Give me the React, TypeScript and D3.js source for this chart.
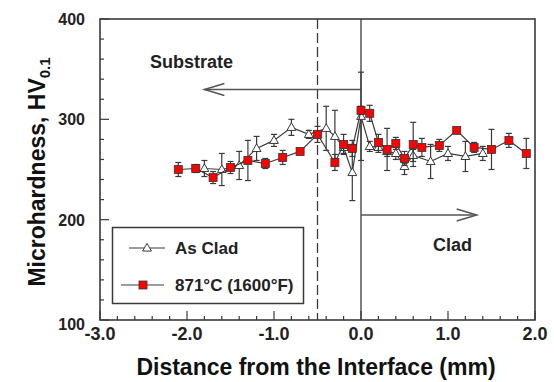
import * as d3 from "d3";

// ── Data ────────────────────────────────────────────────
const heatX   = [-2.1, -1.9, -1.7, -1.5, -1.3, -1.1, -0.9, -0.7, -0.5, -0.3, -0.2, -0.1, 0.0, 0.1, 0.2, 0.3, 0.4, 0.5, 0.6, 0.7, 0.9, 1.1, 1.3, 1.5, 1.7, 1.9];
const heatY   = [250, 251, 242, 252, 259, 256, 262, 268, 285, 257, 275, 271, 309, 306, 277, 270, 276, 261, 275, 272, 274, 289, 272, 270, 279, 266];
const heatErr = [7, 4, 6, 6, 20, 5, 7, 0, 8, 8, 10, 8, 4, 8, 8, 21, 6, 7, 22, 9, 6, 0, 5, 20, 7, 15];

const asCladX   = [-1.8, -1.6, -1.4, -1.2, -1.0, -0.8, -0.6, -0.4, -0.3, -0.2, -0.1, 0.0, 0.1, 0.2, 0.3, 0.4, 0.5, 0.6, 0.8, 1.0, 1.2, 1.4];
const asCladY   = [251, 250, 254, 271, 279, 292, 285, 291, 283, 272, 247, 303, 273, 272, 268, 266, 253, 264, 258, 266, 263, 266];
const asCladErr = [8, 16, 14, 12, 6, 8, 4, 22, 26, 6, 28, 44, 5, 5, 5, 6, 8, 6, 17, 7, 15, 7];

const xTicks = [-3, -2, -1, 0, 1, 2];
const yTicks = [100, 200, 300, 400];

// ── Layout ────────────────────────────────────────────────
const W = 554;
const H = 382;
const margin = { top: 19, right: 19, bottom: 62, left: 100 };
const FONT = "'Liberation Sans', Arial, sans-serif";
const INK = "#3a3a3a";

const x = d3.scaleLinear().domain([-3, 2]).range([margin.left, W - margin.right]);
const y = d3.scaleLinear().domain([100, 400]).range([H - margin.bottom, margin.top]);

const line = d3.line<[number, number]>().x(d => x(d[0])).y(d => y(d[1]));
const zip = (xs: number[], ys: number[]) => xs.map((v, i) => [v, ys[i]] as [number, number]);

const tri = d3.symbol().type(d3.symbolTriangle).size(34)() as string;

function ErrorBars({ xs, ys, es }: { xs: number[]; ys: number[]; es: number[] }) {
  return (
    <g stroke={INK} strokeWidth={1.2}>
      {xs.map((v, i) => es[i] > 0 && (
        <g key={i}>
          <line x1={x(v)} x2={x(v)} y1={y(ys[i] + es[i])} y2={y(ys[i] - es[i])} />
          <line x1={x(v) - 3} x2={x(v) + 3} y1={y(ys[i] + es[i])} y2={y(ys[i] + es[i])} />
          <line x1={x(v) - 3} x2={x(v) + 3} y1={y(ys[i] - es[i])} y2={y(ys[i] - es[i])} />
        </g>
      ))}
    </g>
  );
}

export default function App() {
  const x0 = x.range()[0], x1 = x.range()[1];
  const y0 = y.range()[0], y1 = y.range()[1];
  const minorX = d3.range(-3, 2.001, 0.2);
  const minorY = d3.range(100, 400.001, 20);

  const subY = 89.5;   // substrate arrow height (px)
  const cladY = 215;   // clad arrow height (px)
  const subTip = x(-1.8);
  const cladTip = x(1.33);

  return (
    <svg width={W} height={H} style={{ position: "absolute", left: 0, top: 0, background: "#fff" }}>

      {/* ── Reference lines ── */}
      <line x1={x(-0.5)} x2={x(-0.5)} y1={y1} y2={y0} stroke={INK} strokeWidth={1.3} strokeDasharray="10,4" />
      <line x1={x(0)} x2={x(0)} y1={y1} y2={y0} stroke={INK} strokeWidth={1.3} />

      {/* ── Arrows ── */}
      <g stroke="#555" strokeWidth={1.5} fill="none">
        <line x1={x(0)} x2={subTip} y1={subY} y2={subY} />
        <polyline points={`${subTip + 20},${subY - 6} ${subTip},${subY} ${subTip + 20},${subY + 6}`} />
        <line x1={x(0)} x2={cladTip} y1={cladY} y2={cladY} />
        <polyline points={`${cladTip - 20},${cladY - 6} ${cladTip},${cladY} ${cladTip - 20},${cladY + 6}`} />
      </g>
      <text x={150} y={68} fontFamily={FONT} fontSize={18} fontWeight={700} fill="#222">Substrate</text>
      <text x={433} y={251} fontFamily={FONT} fontSize={18} fontWeight={700} fill="#222">Clad</text>

      {/* ── As Clad series ── */}
      <path d={line(zip(asCladX, asCladY)) as string} fill="none" stroke={INK} strokeWidth={1.2} />
      <ErrorBars xs={asCladX} ys={asCladY} es={asCladErr} />
      {asCladX.map((v, i) => (
        <path key={i} d={tri} transform={`translate(${x(v)},${y(asCladY[i]) + 0.5})`}
          fill="#fff" stroke={INK} strokeWidth={1} />
      ))}

      {/* ── 871°C series ── */}
      <path d={line(zip(heatX, heatY)) as string} fill="none" stroke={INK} strokeWidth={1.2} />
      <ErrorBars xs={heatX} ys={heatY} es={heatErr} />
      {heatX.map((v, i) => (
        <rect key={i} x={x(v) - 4} y={y(heatY[i]) - 4} width={8} height={8}
          fill="#ff0000" stroke="#333" strokeWidth={0.8} />
      ))}

      {/* ── Legend ── */}
      <rect x={112.5} y={227.5} width={191} height={76} fill="#fff" stroke={INK} strokeWidth={1.5} />
      <line x1={129} x2={165} y1={248} y2={248} stroke={INK} strokeWidth={1.2} />
      <path d={tri} transform="translate(147,248.5)" fill="#fff" stroke={INK} strokeWidth={1} />
      <text x={175} y={254} fontFamily={FONT} fontSize={17} fontWeight={700} fill="#222">As Clad</text>
      <line x1={121} x2={164} y1={285} y2={285} stroke={INK} strokeWidth={1.2} />
      <rect x={139} y={281} width={8} height={8} fill="#ff0000" stroke="#333" strokeWidth={0.8} />
      <text x={175} y={291} fontFamily={FONT} fontSize={17} fontWeight={700} fill="#222">871°C (1600°F)</text>

      {/* ── Frame ── */}
      <rect x={x0} y={y1} width={x1 - x0} height={y0 - y1} fill="none" stroke={INK} strokeWidth={1.6} />

      {/* ── Ticks ── */}
      <g stroke={INK} strokeWidth={1.2}>
        {minorX.map((t, i) => {
          const major = Math.abs(t - Math.round(t)) < 1e-6;
          return <line key={i} x1={x(t)} x2={x(t)} y1={y0} y2={y0 - (major ? 9 : 4)} />;
        })}
        {minorY.map((t, i) => {
          const major = Math.abs(t % 100) < 1e-6;
          return <line key={i} x1={x0} x2={x0 + (major ? 9 : 4)} y1={y(t)} y2={y(t)} />;
        })}
      </g>

      {/* ── Tick labels ── */}
      {xTicks.map(t => (
        <text key={t} x={x(t)} y={340} textAnchor="middle" fontFamily={FONT} fontSize={18} fontWeight={700} fill="#222">
          {d3.format(".1f")(t).replace("−", "-")}
        </text>
      ))}
      {yTicks.map(t => (
        <text key={t} x={85} y={t === 100 ? y(t) + 10 : y(t) + 6} textAnchor="end" fontFamily={FONT} fontSize={16} fontWeight={700} fill="#222">
          {t}
        </text>
      ))}

      {/* ── Axis titles ── */}
      <text x={316} y={375} textAnchor="middle" fontFamily={FONT} fontSize={23} fontWeight={700} fill="#111">
        Distance from the Interface (mm)
      </text>
      <text transform="translate(45,172) rotate(-90)" textAnchor="middle" fontFamily={FONT} fontSize={23} fontWeight={700} fill="#111">
        Microhardness, HV<tspan fontSize={15} dy={5}>0.1</tspan>
      </text>
    </svg>
  );
}
